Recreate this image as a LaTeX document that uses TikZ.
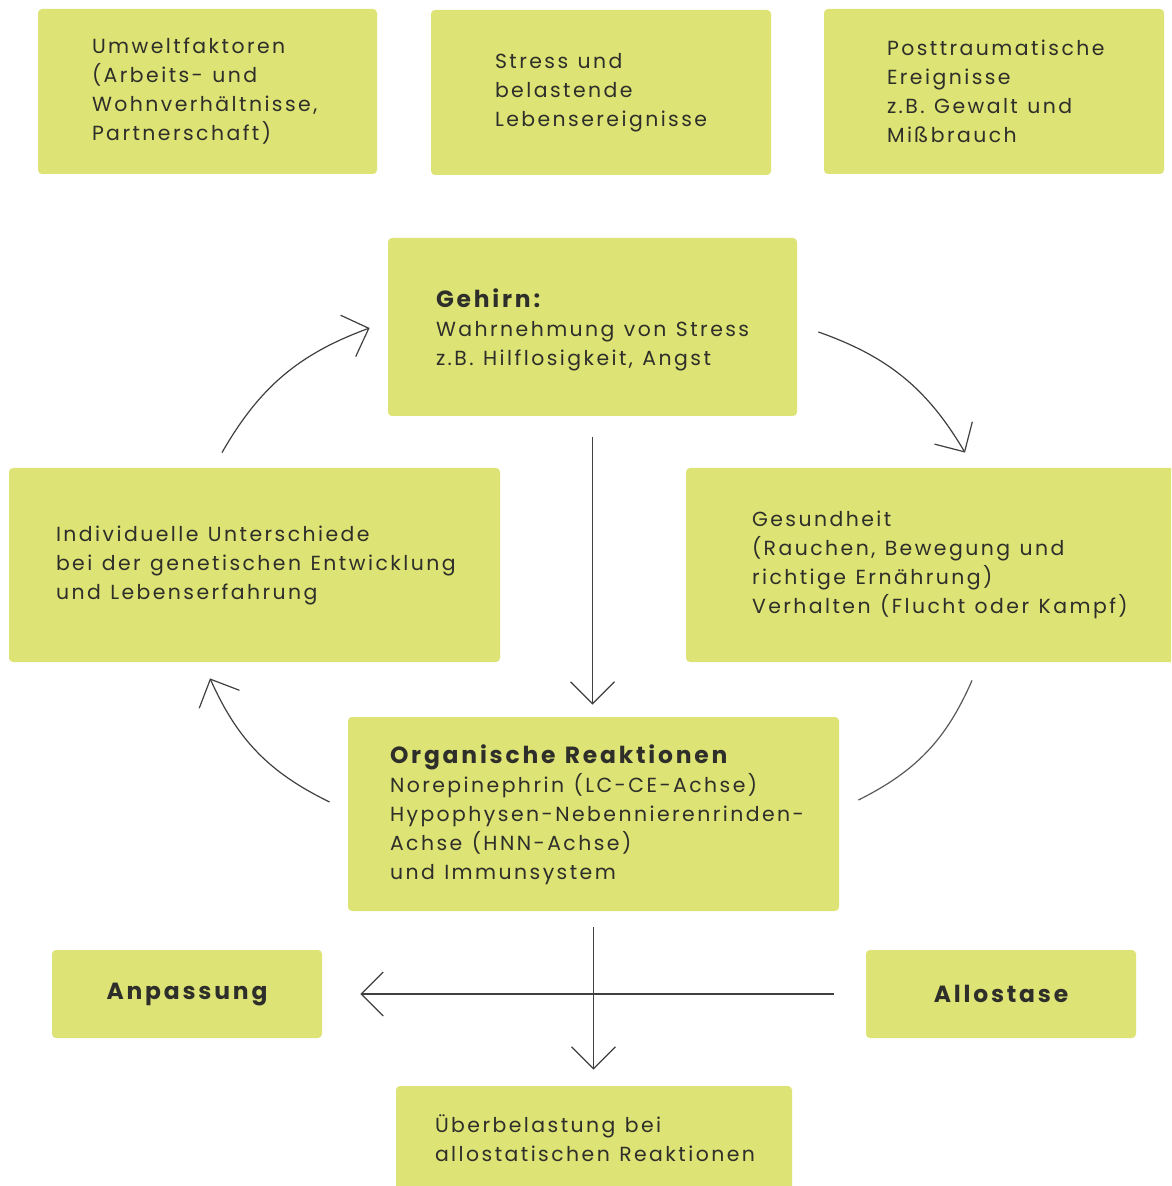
\documentclass[tikz,border=0pt]{standalone}
\usepackage{fontspec}
\setmainfont{Poppins}[LetterSpace=12, WordSpace=1.2]
\usepackage{tikz}
\usetikzlibrary{arrows.meta}

\definecolor{boxgreen}{HTML}{DDE374}
\definecolor{boxtext}{HTML}{2E2E2A}

\newcommand{\boxtitle}[1]{{\fontsize{11.7}{14.5}\selectfont\bfseries #1}}

\tikzset{
  box/.style={fill=boxgreen, rounded corners=2pt, inner sep=0pt},
  txt/.style={anchor=west, align=left, text=boxtext, inner sep=0pt,
    font=\fontsize{10.2}{14.5}\selectfont},
  tip/.style={-{Straight Barb[length=11pt,width=22pt]}, line width=0.6pt, draw=black!75},
  arc/.style={line width=0.6pt, draw=black!65},
}

\begin{document}
\begin{tikzpicture}[x=0.5pt, y=-0.5pt]
  \clip (0,0) rectangle (1171,1186);
  \fill[white] (0,0) rectangle (1171,1186);

  \node (iUmwelt) [box, minimum width=169.5pt, minimum height=82.5pt] at (207.5,91.5) {};
  \node (iStress) [box, minimum width=170pt, minimum height=82.5pt] at (601,92.5) {};
  \node (iPost) [box, minimum width=170pt, minimum height=82.5pt] at (994,91.5) {};
  \node (iGehirn) [box, minimum width=204.5pt, minimum height=89pt] at (592.5,327) {};
  \node (iIndiv) [box, minimum width=245.5pt, minimum height=97pt] at (254.5,565) {};
  \node (iGesund) [box, minimum width=245.5pt, minimum height=97pt] at (931.5,565) {};
  \node (iOrgan) [box, minimum width=245.5pt, minimum height=97pt] at (593.5,814) {};
  \node (iAnpass) [box, minimum width=135pt, minimum height=44pt] at (187,994) {};
  \node (iAllo) [box, minimum width=135pt, minimum height=44pt] at (1001,994) {};
  \node (iUeber) [box, minimum width=198pt, minimum height=52pt] at (594,1138) {};

  \node [txt] at ([xshift=27pt]iUmwelt.west) {Umweltfaktoren\\(Arbeits- und\\Wohnverhältnisse,\\Partnerschaft)};
  \node [txt] at ([xshift=32pt]iStress.west) {Stress und\\belastende\\Lebensereignisse};
  \node [txt] at ([xshift=31.5pt]iPost.west) {Posttraumatische\\Ereignisse\\z.B. Gewalt und\\Mißbrauch};
  \node [txt] at ([xshift=24pt,yshift=-1.5pt]iGehirn.west) {\boxtitle{Gehirn:}\\Wahrnehmung von Stress\\z.B. Hilflosigkeit, Angst};
  \node [txt] at ([xshift=23.5pt]iIndiv.west) {Individuelle Unterschiede\\bei der genetischen Entwicklung\\und Lebenserfahrung};
  \node [txt] at ([xshift=33pt]iGesund.west) {Gesundheit\\(Rauchen, Bewegung und\\richtige Ernährung)\\Verhalten (Flucht oder Kampf)};
  \node [txt] at ([xshift=21pt,yshift=-0.5pt]iOrgan.west) {\boxtitle{Organische Reaktionen}\\Norepinephrin (LC-CE-Achse)\\Hypophysen-Nebennierenrinden-\\Achse (HNN-Achse)\\und Immunsystem};
  \node [txt, anchor=center] at (iAnpass) {\boxtitle{Anpassung}};
  \node [txt, anchor=center] at (iAllo) {\boxtitle{Allostase}};
  \node [txt] at ([xshift=19.5pt]iUeber.west) {Überbelastung bei\\allostatischen Reaktionen};

  \draw [tip] ([yshift=-10.5pt]iGehirn.south) -- ([yshift=6pt]iGehirn.south |- iOrgan.north);
  \draw [tip] ([yshift=-8pt]iOrgan.south) -- ([yshift=8pt]iOrgan.south |- iUeber.north);
  \draw [tip] ([xshift=-16pt]iAllo.west) -- ([xshift=19pt]iAnpass.east);

  \draw [tip] ([shift={(21,5)}]iGehirn.east) to[bend left=20] ([shift={(33.5,-15)}]iGesund.north);
  \draw [arc] ([shift={(40.5,18)}]iGesund.south) to[bend left=20] ([shift={(19,-14)}]iOrgan.east);
  \draw [tip] ([shift={(-18,-12)}]iOrgan.west) to[bend left=20] ([shift={(-44.5,16)}]iIndiv.south);
  \draw [tip] ([shift={(-32.5,-15)}]iIndiv.north) to[bend left=20] ([shift={(-18,1)}]iGehirn.west);
\end{tikzpicture}
\end{document}
